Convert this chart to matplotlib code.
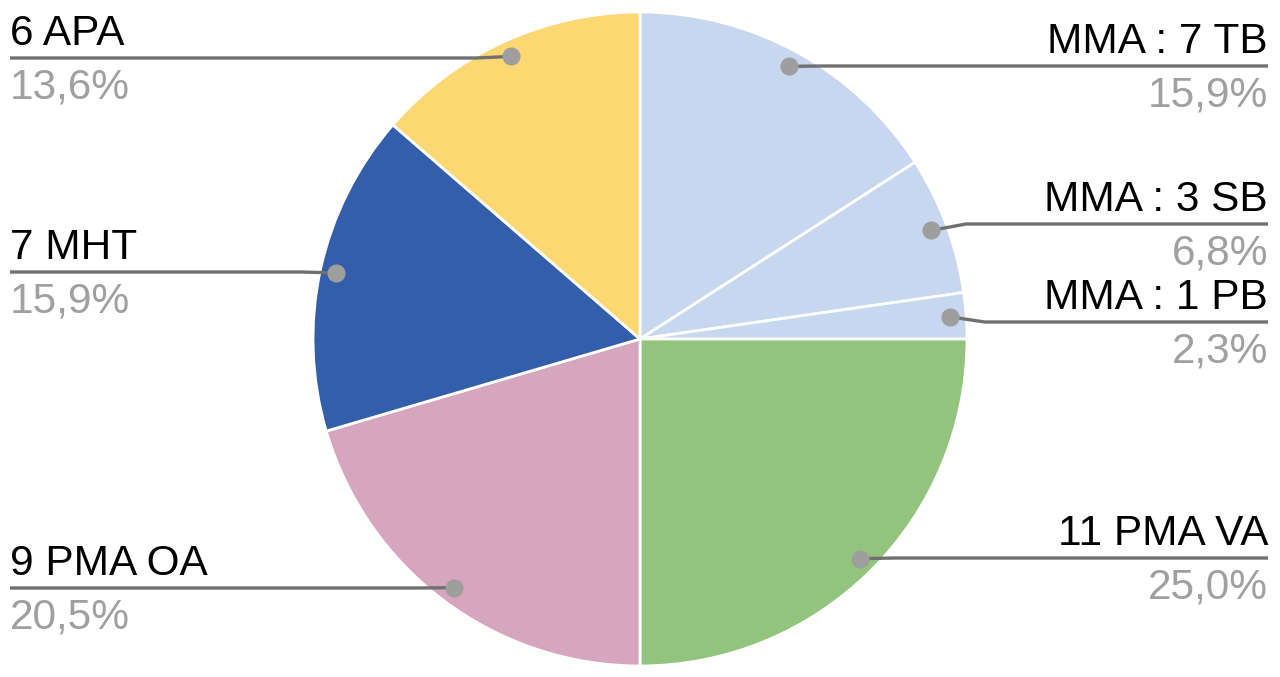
import numpy as np
import matplotlib.pyplot as plt

# slice data (clockwise from 12 o'clock)
labels = ['MMA : 7 TB', 'MMA : 3 SB', 'MMA : 1 PB', '11 PMA VA', '9 PMA OA', '7 MHT', '6 APA']
counts = [7, 3, 1, 11, 9, 7, 6]
colors = ['#c6d7ef', '#c6d7ef', '#c6d7ef', '#93c47d', '#d5a6bd', '#335eaa', '#fdd872']

# label line heights in pixels from the top of the image
label_y = [66, 224, 322, 558, 588, 272, 58]

W, H = 1280, 677
plt.rcParams['font.family'] = ['Liberation Sans', 'DejaVu Sans']

fig = plt.figure(figsize=(W / 100, H / 100), dpi=100)
ax = fig.add_axes([0, 0, 1, 1])

cx, cy, R = 640, H - 339, 327
wedges, _ = ax.pie(counts, colors=colors, startangle=90, counterclock=False,
                   center=(cx, cy), radius=R,
                   wedgeprops=dict(edgecolor='white', linewidth=2))
ax.set_xlim(0, W)
ax.set_ylim(0, H)
ax.set_aspect('equal')
ax.axis('off')

total = sum(counts)
for w, lab, c, ly in zip(wedges, labels, counts, label_y):
    mid = np.deg2rad((w.theta1 + w.theta2) / 2)
    dx = cx + 0.95 * R * np.cos(mid)
    dy = cy + 0.95 * R * np.sin(mid)
    ly = H - ly
    pct = f"{100 * c / total:.1f}".replace('.', ',') + '%'
    if dx > cx:
        xe, ha, side = 1268, 'right', 1
    else:
        xe, ha, side = 10, 'left', -1
    ax.plot([dx, dx + side * 35, xe], [dy, ly, ly], color='#707070', lw=2.4,
            solid_capstyle='butt', zorder=3)
    ax.plot(dx, dy, 'o', color='#9e9e9e', ms=12, zorder=4)
    ax.text(xe, ly + 13, lab, ha=ha, va='baseline', fontsize=30.5, color='#000000')
    ax.text(xe, ly - 40, pct, ha=ha, va='baseline', fontsize=30.5, color='#a0a0a0')

fig.savefig('out.png', dpi=100)
